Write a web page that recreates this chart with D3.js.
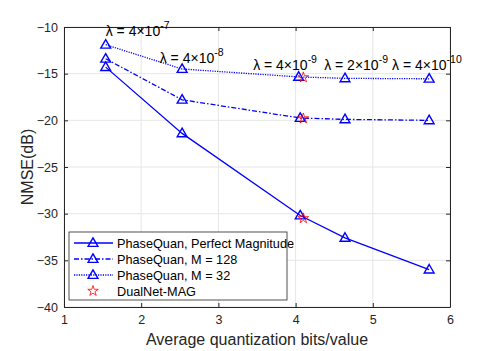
<!DOCTYPE html>
<html>
<head>
<meta charset="utf-8">
<script src="https://cdn.jsdelivr.net/npm/d3@7"></script>
<style>
  body { margin: 0; background: #fff; }
  text { font-family: "Liberation Sans", Arial, sans-serif; }
</style>
</head>
<body>
<div id="chart"></div>
<script>
// data
var xPerfect = [1.54, 2.53, 4.06, 4.64, 5.73];
var yPerfect = [-14.3, -21.4, -30.2, -32.6, -36.0];
var xM128 = [1.54, 2.53, 4.06, 4.64, 5.73];
var yM128 = [-13.4, -17.8, -19.75, -19.9, -20.0];
var xM32 = [1.54, 2.53, 4.04, 4.64, 5.73];
var yM32 = [-11.9, -14.5, -15.35, -15.5, -15.55];
var xDual = [4.1, 4.1, 4.1];
var yDual = [-15.4, -19.8, -30.5];
var lambdaBase = ["4", "4", "4", "2", "4"];
var lambdaExp = ["-7", "-8", "-9", "-9", "-10"];
var xTicks = [1, 2, 3, 4, 5, 6];
var yTicks = [-40, -35, -30, -25, -20, -15, -10];
var legendNames = ["PhaseQuan, Perfect Magnitude", "PhaseQuan, M = 128", "PhaseQuan, M = 32", "DualNet-MAG"];

var width = 498, height = 351;
var margin = {left: 64, right: 48, top: 27, bottom: 44};

var svg = d3.select("#chart").append("svg")
    .attr("width", width)
    .attr("height", height);

var x = d3.scaleLinear().domain([1, 6]).range([margin.left, width - margin.right]);
var y = d3.scaleLinear().domain([-40, -10]).range([height - margin.bottom, margin.top]);

// grid
svg.append("g").selectAll("line.gx")
    .data(xTicks).enter().append("line")
    .attr("x1", d => x(d)).attr("x2", d => x(d))
    .attr("y1", y(-40)).attr("y2", y(-10))
    .attr("stroke", "#e6e6e6");
svg.append("g").selectAll("line.gy")
    .data(yTicks).enter().append("line")
    .attr("x1", x(1)).attr("x2", x(6))
    .attr("y1", d => y(d)).attr("y2", d => y(d))
    .attr("stroke", "#e6e6e6");

// axes
var xAxis = d3.axisBottom(x).tickValues(xTicks).tickFormat(d3.format("d"))
    .tickSizeInner(-4).tickSizeOuter(0).tickPadding(8);
var yAxis = d3.axisLeft(y).tickValues(yTicks).tickFormat(d3.format("d"))
    .tickSizeInner(-4).tickSizeOuter(0).tickPadding(6);

svg.append("g").attr("transform", "translate(0," + y(-40) + ")").call(xAxis);
svg.append("g").attr("transform", "translate(" + x(1) + ",0)").call(yAxis);
svg.append("g").attr("transform", "translate(0," + y(-10) + ")")
    .call(d3.axisTop(x).tickValues(xTicks).tickSizeInner(-4).tickSizeOuter(0).tickFormat(""));
svg.append("g").attr("transform", "translate(" + x(6) + ",0)")
    .call(d3.axisRight(y).tickValues(yTicks).tickSizeInner(-4).tickSizeOuter(0).tickFormat(""));

svg.selectAll(".domain, .tick line").attr("stroke", "#262626");
svg.selectAll(".tick text").attr("fill", "#262626").style("font-size", "12.5px")
    .style("font-family", "Liberation Sans, Arial, sans-serif");

// axis titles
svg.append("text")
    .attr("x", x(3.5)).attr("y", height - 6)
    .attr("text-anchor", "middle")
    .attr("fill", "#262626")
    .style("font-size", "16px")
    .text("Average quantization bits/value");
svg.append("text")
    .attr("transform", "translate(33," + y(-25) + ") rotate(-90)")
    .attr("text-anchor", "middle")
    .attr("fill", "#262626")
    .style("font-size", "16px")
    .text("NMSE(dB)");

var blue = "#0000ff";
var series = [
    {xs: xPerfect, ys: yPerfect, dash: null, w: 1.3},
    {xs: xM128, ys: yM128, dash: "5,2,1.5,2", w: 1.3},
    {xs: xM32, ys: yM32, dash: "1.2,1.2", w: 1.3}
];

var line = d3.line().x(d => x(d[0])).y(d => y(d[1]));
var tri = d3.symbol().type(d3.symbolTriangle).size(42);

series.forEach(function(s) {
    var pts = s.xs.map((v, i) => [v, s.ys[i]]);
    svg.append("path")
        .attr("d", line(pts))
        .attr("fill", "none")
        .attr("stroke", blue)
        .attr("stroke-width", s.w)
        .attr("stroke-dasharray", s.dash);
    svg.append("g").selectAll("path")
        .data(pts).enter().append("path")
        .attr("d", tri)
        .attr("transform", d => "translate(" + x(d[0]) + "," + (y(d[1]) + 0.5) + ")")
        .attr("fill", "none")
        .attr("stroke", blue)
        .attr("stroke-width", 1.4);
});

var star = d3.symbol().type(d3.symbolStar).size(34);
svg.append("g").selectAll("path")
    .data(xDual.map((v, i) => [v, yDual[i]])).enter().append("path")
    .attr("d", star)
    .attr("transform", d => "translate(" + x(d[0]) + "," + y(d[1]) + ")")
    .attr("fill", "none")
    .attr("stroke", "#ff0000")
    .attr("stroke-width", 0.8);

// lambda labels above the M = 32 points
var labelPos = [[1.54, -10.96], [2.24, -13.86], [3.45, -14.6], [4.37, -14.6], [5.25, -14.6]];
lambdaBase.forEach(function(b, i) {
    var t = svg.append("text")
        .attr("x", x(labelPos[i][0])).attr("y", y(labelPos[i][1]))
        .attr("fill", "#000")
        .style("font-size", "14px");
    t.append("tspan").text("\u03bb = " + b + "\u00d710");
    t.append("tspan").attr("dy", -7).style("font-size", "10.5px").text(lambdaExp[i]);
});

// legend
var lg = svg.append("g").attr("transform", "translate(69,232)");
lg.append("rect")
    .attr("width", 218).attr("height", 68)
    .attr("fill", "#fff")
    .attr("stroke", "#262626")
    .attr("stroke-width", 0.8);
legendNames.forEach(function(name, i) {
    var yy = 11 + i * 16;
    if (i < 3) {
        lg.append("line")
            .attr("x1", 5).attr("x2", 44).attr("y1", yy).attr("y2", yy)
            .attr("stroke", blue).attr("stroke-width", 1.3)
            .attr("stroke-dasharray", series[i].dash);
        lg.append("path")
            .attr("d", tri)
            .attr("transform", "translate(24," + (yy + 0.5) + ")")
            .attr("fill", "none").attr("stroke", blue).attr("stroke-width", 1.4);
    } else {
        lg.append("path")
            .attr("d", star)
            .attr("transform", "translate(24," + yy + ")")
            .attr("fill", "none").attr("stroke", "#ff0000").attr("stroke-width", 0.8);
    }
    lg.append("text")
        .attr("x", 48).attr("y", yy + 4.5)
        .attr("fill", "#000")
        .style("font-size", "12.7px")
        .text(name);
});
</script>
</body>
</html>
